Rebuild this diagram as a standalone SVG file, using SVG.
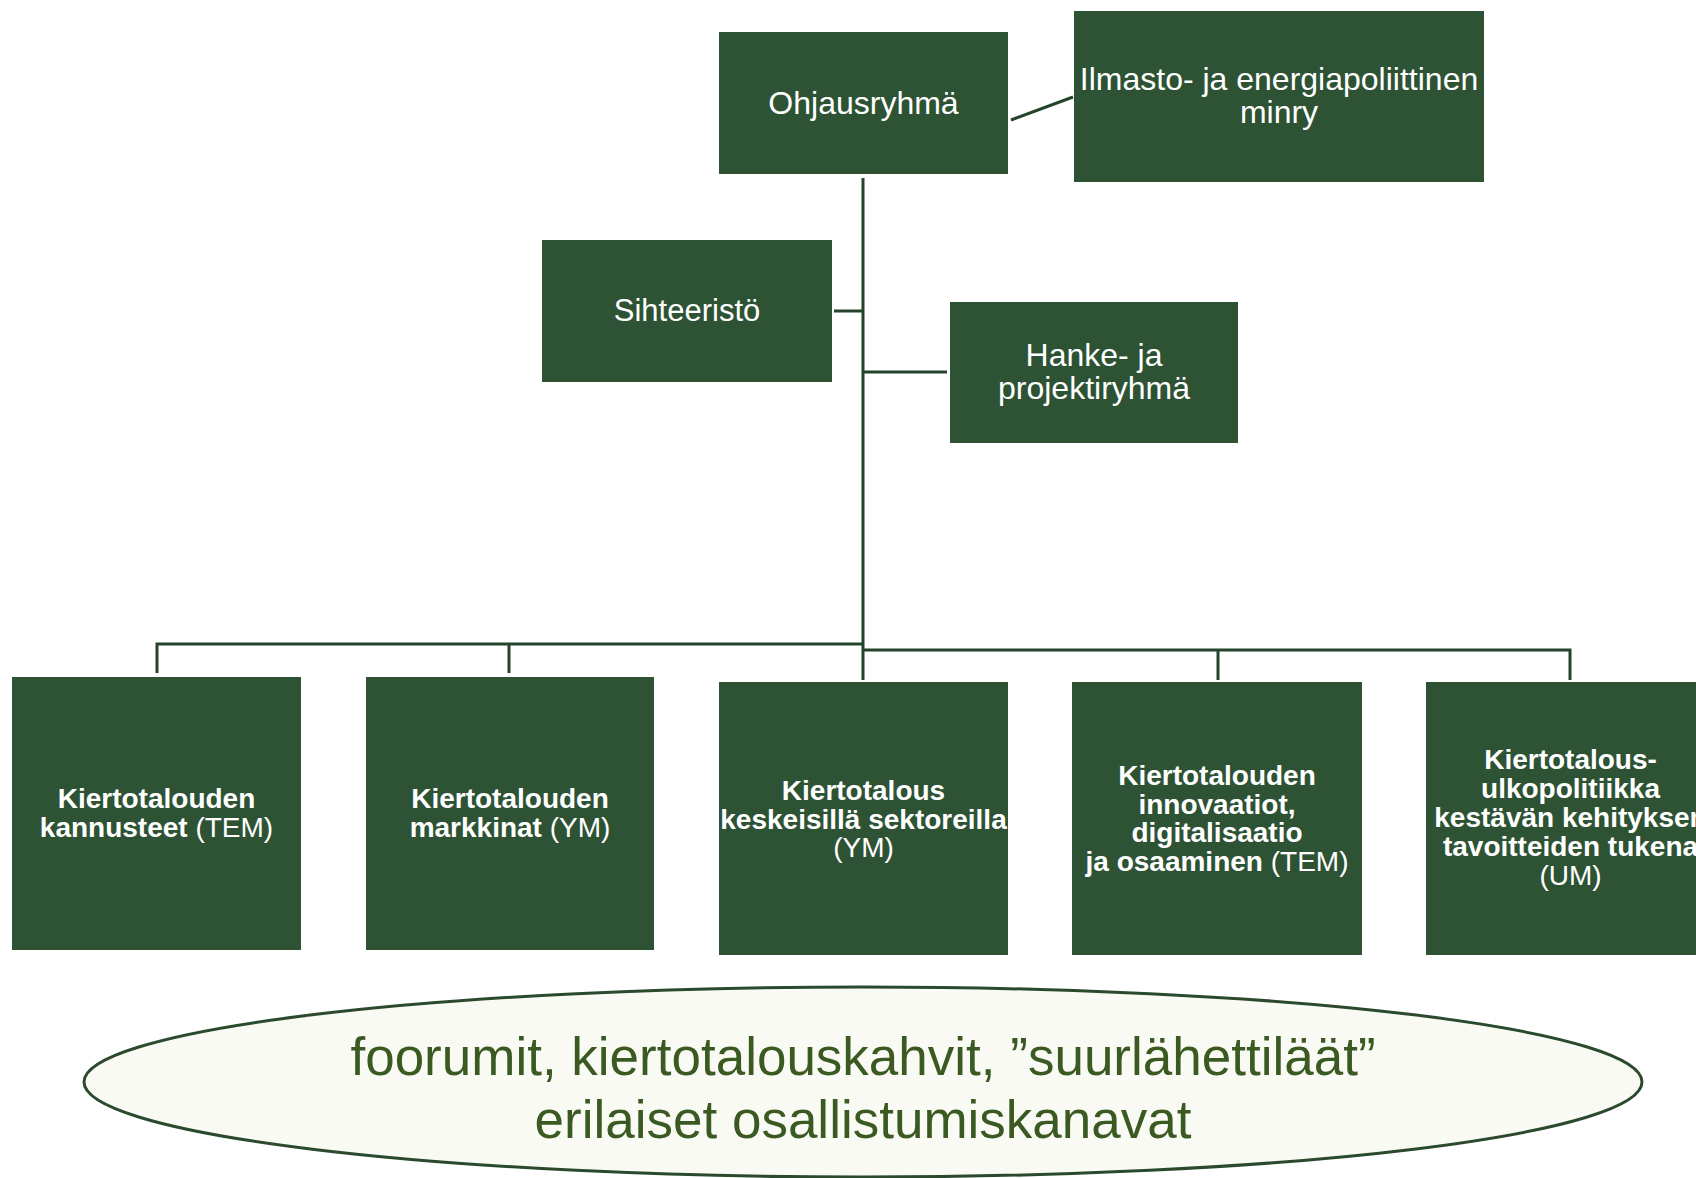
<svg xmlns="http://www.w3.org/2000/svg" width="1696" height="1178" viewBox="0 0 1696 1178">
<style>
.box{fill:#2d5334;}
.t{font-family:"Liberation Sans",Arial,sans-serif;fill:#ffffff;text-anchor:middle;}
.r{font-size:32px;}
.b{font-size:28px;}
.bold{font-weight:bold;}
.norm{font-weight:normal;}
.ln{stroke:#23442a;stroke-width:3;fill:none;}
.el{fill:#fafaf5;stroke:#2b4a2d;stroke-width:3;}
.et{font-family:"Liberation Sans",Arial,sans-serif;font-size:53px;fill:#3b5a22;text-anchor:middle;}
</style>
<rect width="1696" height="1178" fill="#ffffff"/>
<g id="connectors">
<line class="ln" x1="1011" y1="120" x2="1073" y2="97"/>
<line class="ln" x1="863" y1="178" x2="863" y2="680"/>
<line class="ln" x1="834" y1="311" x2="863" y2="311"/>
<line class="ln" x1="863" y1="372" x2="947" y2="372"/>
<polyline class="ln" points="157,673 157,644 863,644"/>
<line class="ln" x1="509" y1="644" x2="509" y2="673"/>
<polyline class="ln" points="863,650 1570,650 1570,680"/>
<line class="ln" x1="1218" y1="650" x2="1218" y2="680"/>
</g>
<g id="ohjausryhma">
<rect class="box" x="719" y="32" width="289" height="142"/>
<text class="t r" x="863.5" y="114">Ohjausryhmä</text>
</g>
<g id="ilmasto">
<rect class="box" x="1074" y="11" width="410" height="171"/>
<text class="t r" x="1279" y="90">Ilmasto- ja energiapoliittinen</text>
<text class="t r" x="1279" y="123">minry</text>
</g>
<g id="sihteeristo">
<rect class="box" x="542" y="240" width="290" height="142"/>
<text class="t" style="font-size:31px" x="687" y="321">Sihteeristö</text>
</g>
<g id="hanke">
<rect class="box" x="950" y="302" width="288" height="141"/>
<text class="t r" x="1094" y="366">Hanke- ja</text>
<text class="t r" x="1094" y="399">projektiryhmä</text>
</g>
<g id="kannusteet">
<rect class="box" x="12" y="677" width="289" height="273"/>
<text class="t b bold" x="156.5" y="808">Kiertotalouden</text>
<text class="t b bold" x="156.5" y="837">kannusteet <tspan class="norm">(TEM)</tspan></text>
</g>
<g id="markkinat">
<rect class="box" x="366" y="677" width="288" height="273"/>
<text class="t b bold" x="510" y="808">Kiertotalouden</text>
<text class="t b bold" x="510" y="837">markkinat <tspan class="norm">(YM)</tspan></text>
</g>
<g id="sektorit">
<rect class="box" x="719" y="682" width="289" height="273"/>
<text class="t b bold" x="863.5" y="800">Kiertotalous</text>
<text class="t b bold" x="863.5" y="828.5">keskeisillä sektoreilla</text>
<text class="t b norm" x="863.5" y="857">(YM)</text>
</g>
<g id="innovaatiot">
<rect class="box" x="1072" y="682" width="290" height="273"/>
<text class="t b bold" x="1217" y="785">Kiertotalouden</text>
<text class="t b bold" x="1217" y="813.5">innovaatiot,</text>
<text class="t b bold" x="1217" y="842">digitalisaatio</text>
<text class="t b bold" x="1217" y="870.5">ja osaaminen <tspan class="norm">(TEM)</tspan></text>
</g>
<g id="ulkopolitiikka">
<rect class="box" x="1426" y="682" width="289" height="273"/>
<text class="t b bold" x="1570.5" y="769">Kiertotalous-</text>
<text class="t b bold" x="1570.5" y="798">ulkopolitiikka</text>
<text class="t b bold" x="1570.5" y="827">kestävän kehityksen</text>
<text class="t b bold" x="1570.5" y="856">tavoitteiden tukena</text>
<text class="t b norm" x="1570.5" y="885">(UM)</text>
</g>
<g id="osallistuminen">
<ellipse class="el" cx="863" cy="1082" rx="779" ry="95"/>
<text class="et" x="863" y="1075">foorumit, kiertotalouskahvit, ”suurlähettiläät”</text>
<text class="et" x="863" y="1138">erilaiset osallistumiskanavat</text>
</g>
</svg>
